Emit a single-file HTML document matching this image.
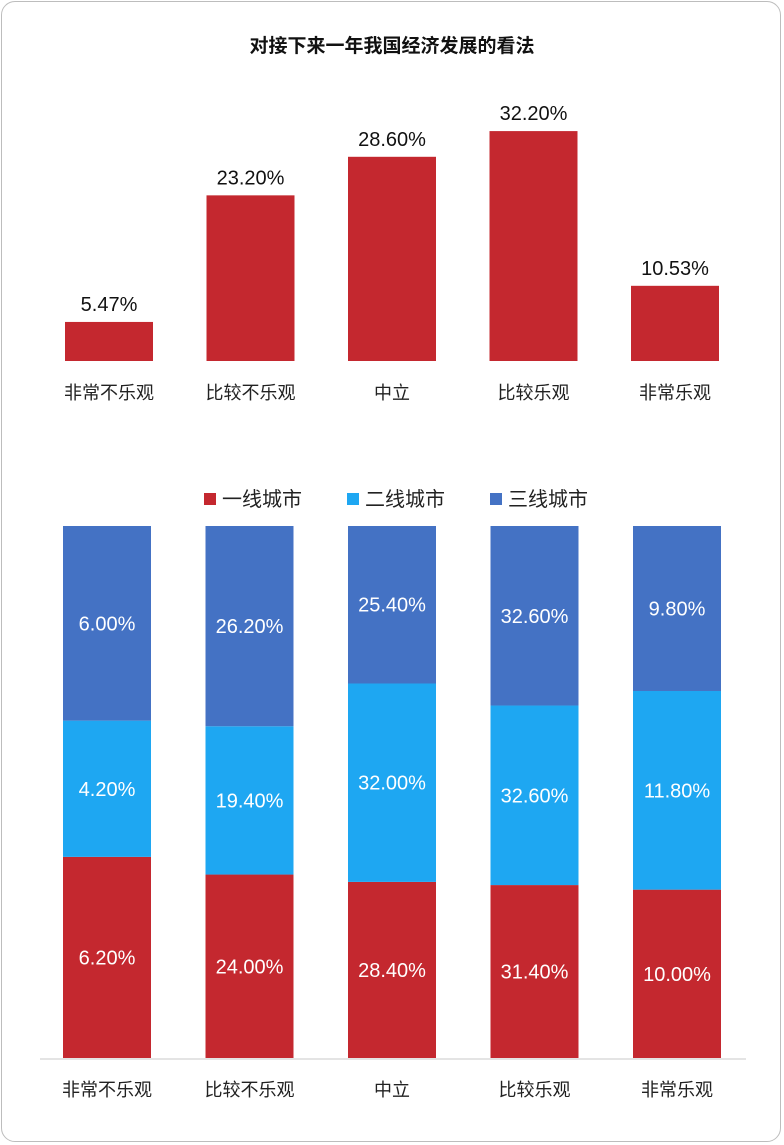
<!DOCTYPE html>
<html><head><meta charset="utf-8">
<style>
html,body{margin:0;padding:0;background:#fff;}
body{width:784px;height:1145px;overflow:hidden;font-family:"Liberation Sans","Noto Sans CJK SC",sans-serif;}
#frame{position:absolute;left:1px;top:1px;width:780px;height:1141px;border:1px solid #bdbdbd;border-radius:14px;box-sizing:border-box;}
svg text{font-family:"Liberation Sans","Noto Sans CJK SC",sans-serif;}
</style></head>
<body>
<div id="frame"></div>
<svg id="c" width="784" height="1145" style="position:absolute;left:0;top:0">
<text x="392" y="52" text-anchor="middle" font-size="19" font-weight="bold" fill="#111">对接下来一年我国经济发展的看法</text>
<line x1="40" y1="1059" x2="746" y2="1059" stroke="#c8c8c8" stroke-width="1"/>
</svg>
<script>
const categories=["非常不乐观","比较不乐观","中立","比较乐观","非常乐观"];
const overall=[5.47,23.2,28.6,32.2,10.53];
const overallLabels=["5.47%","23.20%","28.60%","32.20%","10.53%"];
const tier1=[6.2,24.0,28.4,31.4,10.0];
const tier2=[4.2,19.4,32.0,32.6,11.8];
const tier3=[6.0,26.2,25.4,32.6,9.8];
const seriesNames=["一线城市","二线城市","三线城市"];

const NS="http://www.w3.org/2000/svg";
const svg=document.getElementById('c');
function mk(tag,attrs,text){const e=document.createElementNS(NS,tag);for(const k in attrs)e.setAttribute(k,attrs[k]);if(text!==undefined)e.textContent=text;svg.appendChild(e);return e;}
const RED="#c4282f",LB="#1ea7f2",DB="#4472c4";
// top chart
const topX=i=>65+i*141.5, bw=88, topBase=361, topScale=7.14;
const yTop=v=>topBase-v*topScale;
categories.forEach((c,i)=>{
  const r=mk('rect',{x:topX(i),y:yTop(overall[i]),width:bw,height:topBase-yTop(overall[i]),fill:RED});
  
  
  const t=mk('text',{x:topX(i)+bw/2,y:yTop(overall[i])-11,'text-anchor':'middle','font-size':20,fill:'#111'},overallLabels[i]);
  
  
  const l=mk('text',{x:topX(i)+bw/2,y:399,'text-anchor':'middle','font-size':18,fill:'#222'},c);
  
  
});
// legend
const legX=[204,347,490],cols=[RED,LB,DB];
seriesNames.forEach((n,i)=>{
  const s=mk('rect',{x:legX[i],y:493,width:12,height:12,fill:cols[i]});
  
  
  const t=mk('text',{x:legX[i]+18,y:506,'font-size':20,fill:'#222'},n);
  
  
});
// bottom stacked 100%
const bx=i=>63+i*142.5, bTop=526, bBot=1058, bH=bBot-bTop;
categories.forEach((c,i)=>{
  const tot=tier1[i]+tier2[i]+tier3[i];
  const vals=[tier1[i],tier2[i],tier3[i]];
  let y=bBot;
  vals.forEach((v,k)=>{
    const h=v/tot*bH; y-=h;
    const r=mk('rect',{x:bx(i),y:y,width:88,height:h,fill:cols[k]});
    
    
    const t=mk('text',{x:bx(i)+44,y:y+h/2+7,'text-anchor':'middle','font-size':20,fill:'#fff'},v.toFixed(2)+'%');
    
    
  });
  const l=mk('text',{x:bx(i)+44,y:1096,'text-anchor':'middle','font-size':18,fill:'#222'},c);
  
  
});
</script>
</body></html>
